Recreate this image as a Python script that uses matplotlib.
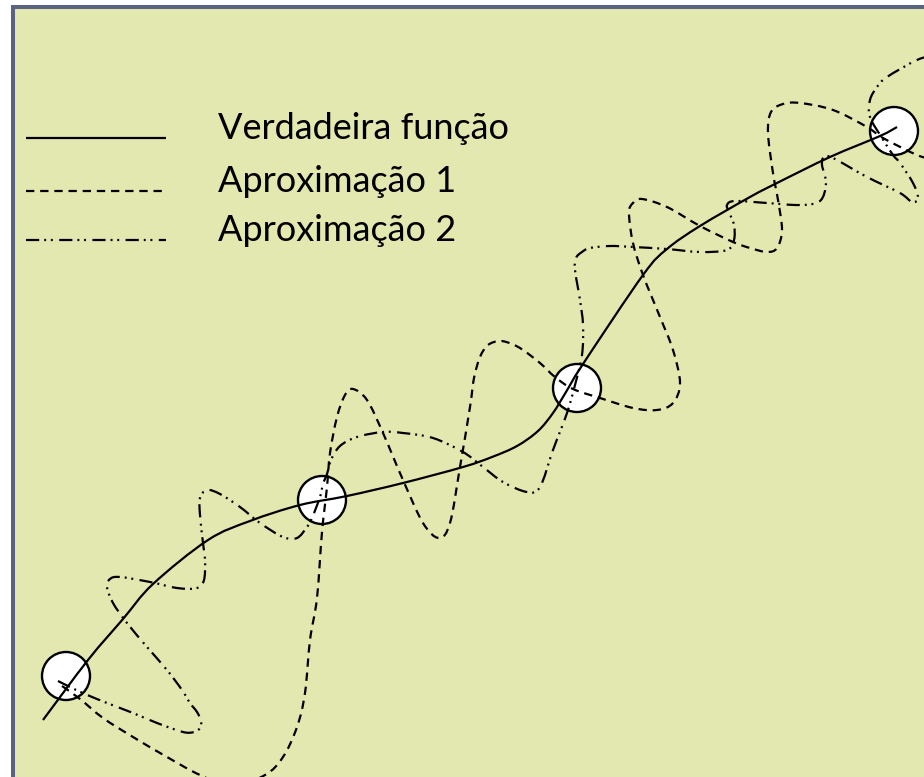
import numpy as np
import matplotlib
matplotlib.use("Agg")
import matplotlib.pyplot as plt
from matplotlib.path import Path
from matplotlib.patches import PathPatch, Rectangle, Circle

# Curves in canvas pixel coordinates (x to the right, y downward)
true_function = [
    (43, 720), (88, 660), (123, 619), (153, 584), (208, 540), (250, 521),
    (300, 505), (347, 496), (403, 483), (463, 467), (492, 457), (517, 446),
    (538, 431), (553, 413), (566, 392), (583, 364), (643, 275), (667, 249),
    (700, 226), (750, 197), (777, 183), (830, 157), (880, 136), (897, 127),
]

approximation_1 = [
    (62, 686), (80, 699), (103, 718), (133, 737), (167, 757), (200, 775),
    (232, 786), (265, 775), (283, 757), (297, 727), (305, 693), (310, 640),
    (317, 598), (322, 532), (327, 487), (330, 453), (337, 417), (345, 395),
    (353, 389), (367, 400), (383, 433), (403, 480), (423, 523), (439, 538),
    (450, 523), (460, 467), (470, 407), (474, 378), (480, 357), (488, 345),
    (500, 341), (512, 344), (523, 350), (540, 363), (555, 377), (573, 389),
    (600, 398), (633, 408), (657, 410), (673, 403), (680, 383), (673, 350),
    (660, 317), (643, 275), (633, 243), (629, 213), (633, 203), (642, 199),
    (667, 207), (700, 226), (733, 242), (750, 248), (767, 252), (777, 248),
    (782, 230), (778, 200), (773, 173), (768, 133), (771, 112), (783, 104),
    (800, 103), (833, 110), (867, 127), (883, 138), (917, 155), (935, 160),
]

approximation_2 = [
    (58, 681), (70, 687), (85, 694), (107, 703), (133, 713), (157, 723),
    (183, 732), (194, 732), (200, 728), (201, 721), (197, 712), (190, 703),
    (182, 690), (167, 670), (147, 647), (127, 623), (113, 603), (107, 587),
    (110, 579), (120, 577), (150, 582), (177, 588), (197, 588), (204, 580),
    (205, 560), (203, 543), (200, 515), (200, 498), (207, 490), (220, 494),
    (240, 507), (260, 523), (283, 537), (297, 538), (307, 527), (312, 518),
    (320, 497), (323, 484), (327, 474), (331, 460), (340, 446), (357, 437),
    (383, 432), (403, 433), (433, 438), (463, 452), (483, 467), (503, 482),
    (527, 492), (540, 487), (553, 450), (567, 413), (575, 385), (582, 355),
    (583, 325), (580, 300), (575, 270), (576, 258), (582, 252), (590, 248),
    (610, 246), (633, 247), (667, 249), (700, 252), (727, 250), (734, 240),
    (734, 225), (729, 212), (727, 205), (735, 201), (767, 203), (800, 205),
    (820, 201), (826, 183), (822, 165), (824, 157), (833, 158), (867, 177),
    (900, 193), (912, 202), (918, 198), (913, 183), (900, 163), (893, 155),
    (882, 138), (870, 117), (870, 100), (877, 87), (887, 77), (917, 60),
    (935, 55),
]

# Sample points marked with circles
sample_points = [(66, 676), (322, 500), (577, 388), (894, 131)]
sample_radius = 24

legend_labels = ["Verdadeira função", "Aproximação 1", "Aproximação 2"]

W, H = 924, 777
BG = "#e3e8b0"
FRAME = "#5b6381"

plt.rcParams["lines.scale_dashes"] = False
fig = plt.figure(figsize=(W / 100, H / 100), dpi=100)
fig.patch.set_facecolor("white")
ax = fig.add_axes([0, 0, 1, 1])
ax.set_xlim(0, W)
ax.set_ylim(H, 0)
ax.axis("off")

ax.add_patch(Rectangle((13, 7), 1200, 1200, facecolor=BG, edgecolor=FRAME,
                       linewidth=2.9, zorder=0))


def smooth_path(points):
    """Catmull-Rom spline through the points, expressed as cubic Bezier segments."""
    p = np.asarray(points, dtype=float)
    ext = np.vstack([p[0], p, p[-1]])
    verts = [tuple(p[0])]
    codes = [Path.MOVETO]
    for i in range(1, len(ext) - 2):
        p0, p1, p2, p3 = ext[i - 1], ext[i], ext[i + 1], ext[i + 2]
        c1 = p1 + (p2 - p0) / 6.0
        c2 = p2 - (p3 - p1) / 6.0
        verts += [tuple(c1), tuple(c2), tuple(p2)]
        codes += [Path.CURVE4] * 3
    return Path(verts, codes)


LW = 1.6
solid_style = "-"
dash_style = (0, (6.0, 4.2))
dashdot_style = (0, (9.5, 3.6, 1.4, 3.4, 1.4, 4.6))

for (cx, cy) in sample_points:
    ax.add_patch(Circle((cx, cy), sample_radius, facecolor="white",
                        edgecolor="black", linewidth=1.7, zorder=2))

for pts, ls in [(true_function, solid_style),
                (approximation_1, dash_style),
                (approximation_2, dashdot_style)]:
    ax.add_patch(PathPatch(smooth_path(pts), fill=False, edgecolor="black",
                           linewidth=LW, linestyle=ls, zorder=3,
                           capstyle="butt", joinstyle="round"))

# Legend drawn by hand: sample line and label per row
rows_y = [139, 192, 241]
for label, ls, y in zip(legend_labels, [solid_style, dash_style, dashdot_style], rows_y):
    ax.plot([26, 166], [y - 1, y - 1], color="black", linewidth=LW, linestyle=ls,
            solid_capstyle="butt", dash_capstyle="butt", zorder=3)
    ax.text(218, y, label, fontsize=26, family="Lato", color="black",
            ha="left", va="baseline", zorder=4)

fig.savefig("out.png", dpi=100, facecolor=fig.get_facecolor())
